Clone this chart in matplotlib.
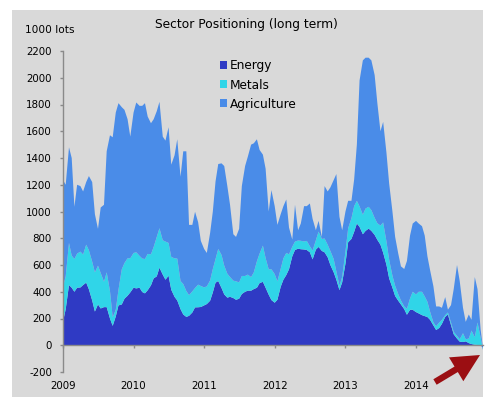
import numpy as np
import pandas as pd
import matplotlib
matplotlib.use("Agg")
import matplotlib.pyplot as plt
import matplotlib.dates as mdates
from matplotlib.patches import Rectangle, Patch, FancyArrowPatch

# ---- data (1000 lots), semi-monthly observations ----
dates = pd.date_range("2009-01-01", periods=144, freq="SMS")

energy = [
    177, 270, 450, 430, 400, 430, 432, 450, 468, 418,
    335, 252, 305, 275, 285, 285, 200, 145, 215, 298,
    305, 348, 370, 395, 430, 425, 430, 398, 388, 411,
    448, 500, 515, 580, 528, 490, 520, 415, 362, 335,
    270, 230, 212, 220, 245, 283, 284, 286, 298, 308,
    333, 395, 468, 480, 428, 380, 356, 362, 353, 340,
    348, 383, 400, 408, 408, 420, 430, 465, 474, 430,
    378, 338, 318, 340, 437, 490, 525, 568, 665, 712,
    722, 718, 716, 712, 695, 642, 715, 735, 705, 695,
    658, 600, 546, 490, 412, 470, 610, 770, 795, 848,
    910, 885, 830, 855, 872, 855, 825, 788, 752, 692,
    602, 500, 430, 368, 333, 305, 270, 228, 265, 265,
    248, 238, 225, 218, 211, 190, 148, 114, 129, 160,
    212, 230, 150, 82, 50, 27, 24, 29, 16, 9,
    4, 2, 0, -20,
]

metals = [
    261, 245, 315, 240, 245, 255, 268, 228, 284, 292,
    290, 293, 290, 265, 190, 260, 205, 65, 50, 117,
    263, 267, 280, 255, 260, 270, 238, 250, 257, 272,
    232, 235, 295, 295, 257, 285, 245, 245, 288, 313,
    210, 228, 193, 155, 158, 145, 169, 157, 135, 132,
    152, 175, 177, 240, 247, 215, 179, 148, 130, 138,
    122, 135, 118, 120, 102, 125, 198, 221, 271, 222,
    190, 230, 214, 138, 135, 160, 165, 112, 72, 63,
    61, 63, 60, 68, 45, 66, 70, 115, 90, 103,
    94, 105, 99, 62, 33, 40, 90, 105, 155, 192,
    170, 153, 146, 167, 163, 155, 127, 124, 143, 226,
    175, 140, 90, 77, 49, 30, 20, 44, 85, 135,
    132, 162, 175, 147, 114, 60, 22, 28, 41, 30,
    13, 15, 20, 18, 20, 18, 66, 16, 34, 101,
    56, 168, 60, -25,
]

agriculture = [
    797, 685, 715, 730, 390, 515, 490, 472, 468, 555,
    595, 435, 275, 490, 575, 905, 1165, 1345, 1475, 1395,
    1212, 1145, 1040, 910, 1050, 1120, 1122, 1142, 1165, 1027,
    980, 955, 940, 945, 775, 755, 865, 690, 770, 892,
    780, 992, 1045, 525, 497, 570, 467, 337, 287, 250,
    355, 430, 580, 635, 685, 745, 655, 540, 347, 332,
    400, 672, 822, 882, 990, 965, 912, 774, 680, 668,
    432, 592, 508, 422, 408, 390, 400, 200, 53, 275,
    77, 129, 264, 260, 320, 237, 75, 80, 15, 392,
    398, 475, 590, 728, 515, 350, 300, 205, 130, 200,
    420, 942, 1154, 1128, 1115, 1120, 1068, 898, 705, 752,
    663, 570, 480, 365, 304, 255, 280, 358, 470, 510,
    550, 510, 490, 455, 340, 310, 270, 148, 120, 90,
    135, 21, 130, 320, 530, 435, 190, 130, 180, 80,
    450, 250, 60, 5,
]

series_names = ["Energy", "Metals", "Agriculture"]
series_colors = ["#2f3ac4", "#30d5e8", "#4a8ce8"]
y_ticks = list(range(-200, 2201, 200))
title = "Sector Positioning (long term)"
unit_label = "1000 lots"

# ---- figure ----
W, H = 491, 409
fig = plt.figure(figsize=(W / 100, H / 100), dpi=100)
fig.patch.set_facecolor("white")
panel = Rectangle((12 / W, 1 - 397 / H), 471 / W, 387 / H,
                  transform=fig.transFigure, facecolor="#d9d9d9",
                  edgecolor="none", zorder=-10)
fig.add_artist(panel)

ax_left, ax_right, ax_top, ax_bottom = 63, 483.3, 51, 372
ax = fig.add_axes([ax_left / W, 1 - ax_bottom / H,
                   (ax_right - ax_left) / W, (ax_bottom - ax_top) / H])
ax.set_zorder(1)
ax.set_facecolor("none")

ax.stackplot(dates, energy, metals, agriculture, colors=series_colors,
             linewidth=0, labels=series_names)

ax.set_xlim(dates[0], dates[-1])
ax.set_ylim(-200, 2200)
ax.set_yticks(y_ticks)
ax.set_yticklabels([str(v) for v in y_ticks])

ax.xaxis.set_major_locator(mdates.YearLocator())
ax.xaxis.set_major_formatter(mdates.DateFormatter("%Y"))

spine_col = "#8a8a8a"
for s in ["top", "right"]:
    ax.spines[s].set_visible(False)
ax.spines["left"].set_color(spine_col)
ax.spines["bottom"].set_color(spine_col)
ax.spines["bottom"].set_position(("data", 0))
ax.spines["left"].set_linewidth(1.0)
ax.spines["bottom"].set_linewidth(1.0)

ax.tick_params(axis="y", direction="out", length=2.5, width=1, color=spine_col,
               pad=5.5, labelsize=7.4, labelcolor="black")
ax.tick_params(axis="x", direction="out", length=2.5, width=1, color=spine_col,
               pad=23.5, labelsize=7.4, labelcolor="black")

fig.text(246.7 / W, 1 - 24.7 / H, title, ha="center", va="center",
         fontsize=8.8, color="black")
fig.text(25 / W, 1 - 30 / H, unit_label, ha="left", va="center",
         fontsize=7.6, color="black")

handles = [Patch(facecolor=c, edgecolor="none", label=n)
           for c, n in zip(series_colors, series_names)]
leg = fig.legend(handles=handles, loc="upper left",
                 bbox_to_anchor=(219.5 / W, 1 - 59.5 / H), bbox_transform=fig.transFigure,
                 frameon=False, fontsize=8.7, handlelength=0.6, handleheight=0.6,
                 handletextpad=0.25, labelspacing=0.5, borderpad=0, borderaxespad=0)
leg.set_zorder(5)

arrow = FancyArrowPatch((435 / W, 1 - 382 / H), (480 / W, 1 - 355 / H),
                        transform=fig.transFigure,
                        arrowstyle="simple,head_length=20,head_width=20,tail_width=4.6",
                        mutation_scale=1, shrinkA=0, shrinkB=0,
                        color="#9b0e12", linewidth=0, zorder=6)
fig.add_artist(arrow)

fig.savefig("out.png", dpi=100, facecolor="white")
